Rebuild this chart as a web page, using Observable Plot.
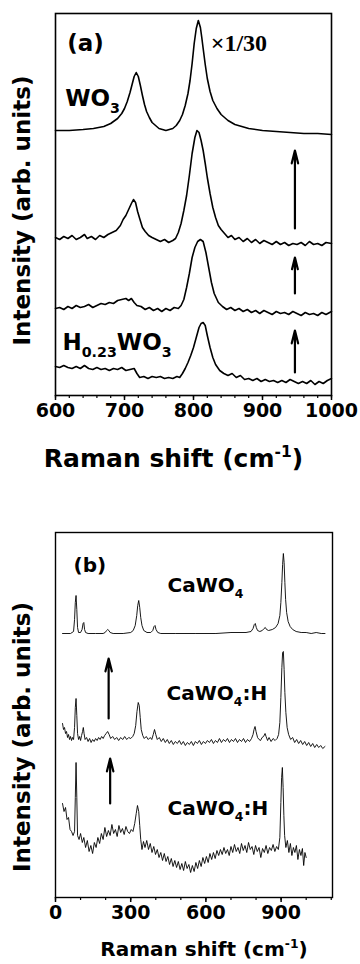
<!DOCTYPE html>
<html><head><meta charset="utf-8">
<script src="https://cdn.jsdelivr.net/npm/d3@7"></script>
<script src="https://cdn.jsdelivr.net/npm/@observablehq/plot@0.6"></script>
<style>body{margin:0;background:#fff}#chart{width:360px}svg{display:block}</style>
</head><body><div id="chart"></div>
<script>
// ---------- Panel (a): Raman shift (cm-1) vs intensity (arb. units, stacked) ----------
const a_WO3 = [[600,265],[620,265],[640,266],[655,267],[670,269],[680,272],[690,277],[696,282],[700,287],[704,294],[708,303],[711,311],[714,319],[717,323],[720,319],[723,310],[726,300],[729,291],[732,284],[736,278],[740,273],[745,270],[750,267],[755,266],[760,265],[765,266],[770,267],[775,270],[780,275],[784,281],[788,290],[792,302],[795,315],[798,332],[801,352],[804,367],[807,375],[810,368],[812,358],[814,347],[817,331],[820,317],[824,304],[828,295],[834,287],[840,281],[850,275],[860,271],[870,269],[880,267],[900,265],[920,264],[940,263],[960,262],[980,262],[1000,261]];
const a_H1 = [[600,158],[606,156],[612,159],[618,157],[624,160],[630,156],[636,158],[642,161],[646,157],[652,159],[658,156],[664,160],[670,158],[676,161],[682,163],[688,165],[694,170],[698,176],[702,180],[706,186],[710,192],[713,196],[716,193],[719,184],[722,177],[726,168],[730,164],[735,160],[740,158],[746,156],[752,154],[758,156],[764,153],[770,155],[774,157],[778,163],[782,172],[786,185],[790,200],[794,220],[798,242],[802,258],[805,265],[808,263],[811,255],[814,245],[817,232],[820,218],[824,202],[828,188],[832,178],[836,170],[840,166],[845,162],[850,158],[855,160],[860,156],[866,158],[872,154],[878,157],[884,153],[890,156],[896,152],[902,155],[908,153],[914,151],[920,154],[926,151],[932,153],[938,150],[944,152],[950,151],[956,153],[962,150],[968,154],[974,151],[980,152],[986,150],[992,153],[1000,152]];
const a_H2 = [[600,87],[606,88],[612,86],[618,89],[624,87],[630,90],[636,88],[642,89],[648,91],[654,88],[660,90],[666,92],[672,91],[678,93],[684,92],[690,95],[696,96],[702,97],[706,95],[710,97],[714,93],[718,90],[724,89],[730,86],[736,88],[742,85],[748,87],[754,84],[760,87],[766,85],[772,88],[778,87],[782,90],[786,96],[790,108],[794,122],[798,138],[802,148],[806,154],[810,156],[814,154],[818,143],[822,128],[826,113],[830,102],[836,93],[842,89],[848,86],[854,88],[860,85],[866,87],[872,84],[878,86],[884,83],[890,85],[896,82],[902,85],[908,83],[914,81],[920,84],[926,82],[932,83],[938,81],[944,84],[950,82],[956,80],[962,83],[968,81],[974,82],[980,80],[986,83],[992,81],[1000,84]];
const a_H023 = [[600,29],[606,28],[612,30],[618,28],[624,27],[630,29],[636,27],[642,30],[648,27],[654,26],[660,28],[666,26],[672,27],[678,25],[684,27],[690,26],[696,28],[702,25],[708,26],[714,27],[718,22],[722,18],[728,19],[734,17],[740,19],[746,18],[752,19],[758,17],[764,18],[770,17],[776,19],[780,18],[784,22],[788,27],[792,33],[796,40],[800,48],[804,58],[808,68],[811,72],[814,73],[817,70],[820,60],[824,48],[828,38],[832,31],[838,25],[844,22],[850,20],[856,22],[862,18],[868,20],[874,16],[880,17],[886,15],[892,17],[898,14],[904,16],[910,14],[916,15],[922,13],[928,15],[934,13],[940,16],[946,14],[952,12],[958,14],[964,12],[970,15],[976,11],[982,14],[988,12],[994,15],[1000,17]];
const a_ticksMajor = [600, 700, 800, 900, 1000];
const a_ticksMinor = d3.range(600, 1001, 20);
const a_labels = ["(a)", "WO_{3}", "H_{0.23}WO_{3}"];
const a_labelX = [617, 614, 610];
const a_labelY = [352, 297, 53];
const a_scaleNote = ["×1/30"];
const a_scaleNoteX = [825];
const a_scaleNoteY = [352];
const a_arrowX = [947, 947, 947];
const a_arrowFrom = [167, 102, 23];
const a_arrowTo = [245, 138, 65];

// ---------- Panel (b) ----------
const b_CaWO4 = [[28,264],[60,264],[72,266],[76,278],[79,295],[82,302],[85,288],[88,270],[92,265],[100,265],[106,268],[110,274],[113,275],[116,268],[120,265],[130,264],[160,264],[190,264],[198,265],[204,267],[208,268],[213,267],[218,265],[230,264],[270,264],[300,265],[310,267],[318,272],[324,282],[328,292],[332,297],[336,290],[340,280],[345,272],[352,267],[365,265],[380,265],[388,267],[393,271],[397,272],[401,268],[408,265],[420,264],[480,264],[560,264],[640,264],[700,265],[760,265],[780,266],[788,269],[793,273],[797,274],[801,270],[806,267],[815,266],[825,267],[832,269],[837,270],[842,268],[850,267],[865,268],[878,270],[888,274],[895,282],[899,295],[903,315],[906,333],[909,344],[912,335],[915,315],[918,298],[922,285],[928,276],[936,271],[946,268],[960,266],[980,265],[1000,265],[1020,264],[1040,265],[1060,264],[1075,264]];
const b_CaWO4H1 = [[28,174],[32,168],[36,170],[40,164],[44,166],[48,160],[52,163],[56,158],[60,161],[64,157],[68,160],[72,158],[76,170],[79,190],[82,199],[85,182],[88,164],[92,158],[96,161],[100,157],[104,162],[108,166],[111,170],[114,164],[118,158],[124,160],[130,156],[136,159],[142,155],[148,158],[154,156],[160,159],[166,157],[172,160],[178,158],[184,161],[190,159],[196,162],[202,164],[208,166],[214,163],[220,159],[228,161],[236,158],[244,160],[252,157],[260,160],[268,158],[276,161],[284,158],[292,160],[300,159],[308,161],[314,164],[320,172],[325,186],[330,195],[334,192],[338,180],[342,168],[348,162],[354,159],[362,161],[370,158],[378,160],[384,158],[390,163],[395,168],[400,163],[406,158],[414,160],[422,156],[430,159],[438,155],[446,158],[454,154],[462,157],[470,153],[478,156],[486,154],[494,157],[502,153],[510,156],[518,152],[526,155],[534,153],[542,156],[550,152],[558,156],[566,154],[574,157],[582,153],[590,156],[598,154],[606,157],[614,155],[622,158],[630,154],[638,157],[646,155],[654,159],[662,155],[670,158],[678,156],[686,159],[694,155],[702,158],[710,156],[718,159],[726,155],[734,158],[742,156],[750,159],[758,155],[766,158],[774,156],[782,159],[788,163],[792,168],[796,171],[800,166],[806,160],[812,158],[818,157],[824,160],[830,161],[836,164],[840,161],[846,157],[852,160],[860,156],[868,159],[876,157],[884,159],[890,163],[895,175],[899,200],[903,230],[906,245],[909,246],[912,228],[915,205],[919,185],[924,170],[930,163],[938,158],[946,160],[954,155],[962,158],[970,154],[978,157],[986,153],[994,156],[1002,152],[1010,155],[1018,151],[1026,154],[1034,150],[1042,153],[1050,150],[1058,152],[1066,149],[1075,151]];
const b_CaWO4H2 = [[28,94],[34,86],[40,90],[46,78],[52,80],[58,68],[64,66],[70,62],[76,66],[79,100],[82,135],[85,100],[88,62],[94,58],[100,64],[107,55],[113,60],[120,50],[127,57],[134,46],[141,52],[148,44],[155,55],[162,50],[169,60],[176,54],[183,64],[190,58],[197,70],[204,61],[211,67],[218,62],[225,73],[232,64],[239,68],[246,61],[253,72],[260,65],[267,69],[274,63],[281,71],[288,66],[295,64],[302,68],[309,66],[316,74],[322,84],[327,92],[332,86],[336,72],[340,58],[345,48],[351,56],[357,50],[364,57],[371,48],[378,54],[385,45],[392,51],[399,43],[406,48],[413,40],[420,45],[427,37],[434,44],[441,36],[448,41],[455,33],[462,39],[469,31],[476,37],[483,30],[490,36],[497,28],[504,34],[511,27],[518,36],[525,29],[532,33],[539,25],[546,32],[553,26],[560,35],[567,29],[574,37],[581,31],[588,40],[595,34],[602,41],[609,35],[616,44],[623,38],[630,45],[637,39],[644,47],[651,42],[658,48],[665,43],[672,50],[679,44],[686,48],[693,42],[700,51],[707,45],[714,53],[721,46],[728,50],[735,44],[742,54],[749,47],[756,52],[763,45],[770,55],[777,48],[784,51],[791,43],[798,52],[805,46],[812,50],[819,40],[826,49],[833,45],[840,52],[847,44],[854,50],[861,47],[868,53],[875,46],[882,51],[889,48],[895,60],[899,95],[902,120],[905,130],[908,110],[911,82],[914,62],[919,50],[925,57],[931,45],[937,54],[943,42],[949,50],[955,45],[961,52],[967,38],[973,48],[979,42],[985,49],[990,32],[995,45],[1000,40]];
const b_ticksMajor = [0, 300, 600, 900];
const b_ticksMinor = d3.range(0, 1101, 100);
const b_labels = ["(b)", "CaWO_{4}", "CaWO_{4}:H", "CaWO_{4}:H"];
const b_labelX = [72, 447, 443, 447];
const b_labelY = [332, 312, 204, 89];
const b_arrowX = [212, 218];
const b_arrowFrom = [179, 94];
const b_arrowTo = [239, 139];

const xTitle = "Raman shift (cm^{-1})";
const yTitle = "Intensity (arb. units)";

const rows = (pairs, s) => pairs.map(([x, y]) => ({x, y, s}));
const FONT = "DejaVu Sans";

function panel({xDomain, yDomain, height, mt, mb, mr, traces, sw, fw, major, minor, labels, lx, ly, lsize, notes, nx, ny, ax, af, at, xtSize, xtDx, xtDy, ytDy}) {
  const data = traces.flatMap((t, i) => rows(t, i));
  const lab = labels.map((t, i) => ({t, x: lx[i], y: ly[i]}));
  const note = notes.map((t, i) => ({t, x: nx[i], y: ny[i]}));
  const arr = ax.map((x, i) => ({x, y1: af[i], y2: at[i]}));
  return Plot.plot({
    width: 360, height, marginLeft: 55, marginRight: mr, marginTop: mt, marginBottom: mb,
    x: {domain: xDomain, axis: null},
    y: {domain: yDomain, axis: null},
    style: {fontFamily: FONT, fontWeight: "bold", background: "#fff", color: "#000"},
    marks: [
      Plot.axisX({ticks: minor, tickSize: 3, tickFormat: () => "", strokeWidth: 1.2, label: null}),
      Plot.axisX({ticks: major, tickSize: 5, tickPadding: 3, tickFormat: (d) => String(d), fontSize: 19, fontWeight: "bold", fontFamily: FONT, strokeWidth: 1.5, label: null, fill: "#000"}),
      Plot.line(data, {x: "x", y: "y", z: "s", stroke: "#000", strokeWidth: sw, curve: "linear"}),
      Plot.frame({stroke: "#000", strokeWidth: fw}),
      Plot.arrow(arr, {x: "x", y1: "y1", y2: "y2", stroke: "#000", strokeWidth: 2.2, headLength: 9, headAngle: 28}),
      Plot.text(lab, {x: "x", y: "y", text: "t", textAnchor: "start", fontSize: lsize, fontFamily: FONT, fontWeight: "bold", fill: "#000"}),
      Plot.text(note, {x: "x", y: "y", text: "t", textAnchor: "start", fontSize: 24, fontFamily: "Liberation Serif", fontWeight: "bold", fill: "#000"}),
      Plot.text([xTitle], {frameAnchor: "bottom", textAnchor: "middle", lineAnchor: "middle", dx: xtDx, dy: xtDy, fontSize: xtSize, fontWeight: "bold", fontFamily: FONT, fill: "#000"}),
      Plot.text([yTitle], {frameAnchor: "left", textAnchor: "middle", lineAnchor: "middle", rotate: -90, dx: -33, dy: ytDy, fontSize: 23, fontWeight: "bold", fontFamily: FONT, fill: "#000"})
    ]
  });
}

const chartA = panel({xDomain: [600, 1000], yDomain: [0, 382], height: 480, mt: 13, mb: 85, mr: 29,
  traces: [a_WO3, a_H1, a_H2, a_H023], sw: 1.6, fw: 1.6, major: a_ticksMajor, minor: a_ticksMinor,
  labels: a_labels, lx: a_labelX, ly: a_labelY, lsize: 23, notes: a_scaleNote, nx: a_scaleNoteX, ny: a_scaleNoteY,
  ax: a_arrowX, af: a_arrowFrom, at: a_arrowTo, xtSize: 25, xtDx: -20, xtDy: 63, ytDy: 6});
const chartB = panel({xDomain: [0, 1105], yDomain: [0, 365], height: 484, mt: 52, mb: 67, mr: 28,
  traces: [b_CaWO4, b_CaWO4H1, b_CaWO4H2], sw: 0.9, fw: 1.4, major: b_ticksMajor, minor: b_ticksMinor,
  labels: b_labels, lx: b_labelX, ly: b_labelY, lsize: 20, notes: [], nx: [], ny: [],
  ax: b_arrowX, af: b_arrowFrom, at: b_arrowTo, xtSize: 20, xtDx: 10, xtDy: 52, ytDy: 22});

const host = document.getElementById("chart");
host.append(chartA, chartB);

// turn _{..} / ^{..} into sub/superscript tspans
function richText(svg) {
  d3.select(svg).selectAll("text").each(function() {
    const t = this.textContent;
    if (!/[_^]\{/.test(t)) return;
    const fs = parseFloat(getComputedStyle(this).fontSize) || 16;
    const el = d3.select(this);
    el.text(null);
    const re = /([_^])\{([^}]*)\}|([^_^]+)/g;
    let m, shift = 0;
    while ((m = re.exec(t))) {
      if (m[3]) {
        el.append("tspan").attr("dy", -shift).text(m[3]);
        shift = 0;
      } else {
        const d = m[1] === "_" ? fs * 0.32 : -fs * 0.38;
        el.append("tspan").attr("dy", d - shift).attr("font-size", fs * 0.62).text(m[2]);
        shift = d;
      }
    }
  });
}
richText(chartA); richText(chartB);
</script></body></html>
